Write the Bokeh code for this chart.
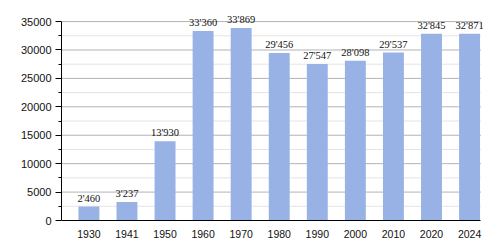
from bokeh.plotting import figure
from bokeh.models import ColumnDataSource, FixedTicker, LabelSet, Range1d
from bokeh.embed import file_html
from bokeh.resources import INLINE

years = ["1930", "1941", "1950", "1960", "1970", "1980", "1990", "2000", "2010", "2020", "2024"]
population = [2460, 3237, 13930, 33360, 33869, 29456, 27547, 28098, 29537, 32845, 32871]
labels = ["2'460", "3'237", "13'930", "33'360", "33'869", "29'456", "27'547", "28'098", "29'537", "32'845", "32'871"]
y_ticks = [0, 5000, 10000, 15000, 20000, 25000, 30000, 35000]
y_minor = [2500, 7500, 12500, 17500, 22500, 27500, 32500]

xs = list(range(len(years)))
src = ColumnDataSource(dict(x=xs, top=population, label=labels))

FONT = "Liberation Sans"
X_LO, X_HI = -0.72, 10.30

p = figure(width=500, height=250, output_backend="svg", toolbar_location=None,
           x_range=Range1d(X_LO, 10.55), y_range=Range1d(0, 37300),
           min_border_left=61, min_border_right=10, min_border_top=8, min_border_bottom=30)
p.outline_line_color = None
p.background_fill_color = "white"
p.border_fill_color = "white"

# grid lines (drawn manually so they stop at the axis extent)
p.segment(x0=[X_LO] * len(y_minor), x1=[X_HI] * len(y_minor), y0=y_minor, y1=y_minor,
          line_color="#e4e4e4", line_width=1)
p.segment(x0=[X_LO] * (len(y_ticks) - 1), x1=[X_HI] * (len(y_ticks) - 1),
          y0=y_ticks[1:], y1=y_ticks[1:], line_color="#b4b4b4", line_width=1)

p.vbar(x="x", top="top", width=0.55, source=src, fill_color="#99b2e5", line_color=None)

ls = LabelSet(x="x", y="top", text="label", source=src, text_align="center",
              text_baseline="bottom", y_offset=3, text_font_size="10.5px",
              text_color="#111111", text_font=FONT)
p.add_layout(ls)

# y axis
p.yaxis.ticker = FixedTicker(ticks=y_ticks, minor_ticks=y_minor)
p.yaxis.bounds = (0, 35000)
p.yaxis.axis_line_color = "black"
p.yaxis.major_tick_line_color = "black"
p.yaxis.minor_tick_line_color = "black"
p.yaxis.major_tick_out = 6
p.yaxis.major_tick_in = 0
p.yaxis.minor_tick_out = 3
p.yaxis.minor_tick_in = 0
p.yaxis.major_label_standoff = 4
p.yaxis.major_label_text_font_size = "11px"
p.yaxis.major_label_text_font = FONT
p.yaxis.major_label_text_color = "#111111"

# x axis
p.xaxis.ticker = FixedTicker(ticks=xs)
p.xaxis.bounds = (X_LO, X_HI)
p.xaxis.major_label_overrides = {i: y for i, y in enumerate(years)}
p.xaxis.axis_line_color = "black"
p.xaxis.major_tick_line_color = None
p.xaxis.minor_tick_line_color = None
p.xaxis.major_label_standoff = 3
p.xaxis.major_label_text_font_size = "10.5px"
p.xaxis.major_label_text_font = FONT
p.xaxis.major_label_text_color = "#111111"

p.xgrid.grid_line_color = None
p.ygrid.grid_line_color = None

open("out.html", "w").write(file_html(p, INLINE))
